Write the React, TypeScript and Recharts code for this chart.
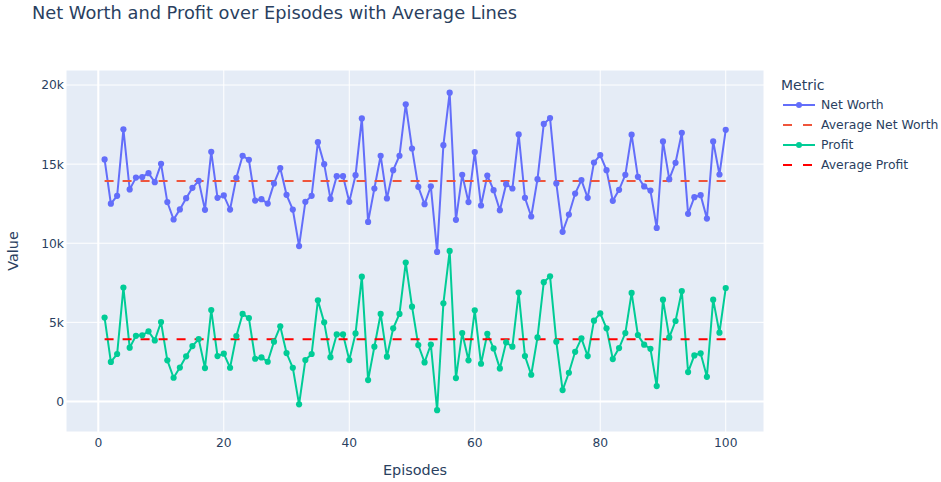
import React from 'react';
import { LineChart, Line, XAxis, YAxis, CartesianGrid, ReferenceLine } from 'recharts';

const episodes = [
  1, 2, 3, 4, 5, 6, 7, 8, 9, 10, 11, 12, 13, 14, 15, 16, 17, 18, 19, 20,
  21, 22, 23, 24, 25, 26, 27, 28, 29, 30, 31, 32, 33, 34, 35, 36, 37, 38, 39, 40,
  41, 42, 43, 44, 45, 46, 47, 48, 49, 50, 51, 52, 53, 54, 55, 56, 57, 58, 59, 60,
  61, 62, 63, 64, 65, 66, 67, 68, 69, 70, 71, 72, 73, 74, 75, 76, 77, 78, 79, 80,
  81, 82, 83, 84, 85, 86, 87, 88, 89, 90, 91, 92, 93, 94, 95, 96, 97, 98, 99, 100,
];

const netWorth = [
  15300, 12500, 13000, 17200, 13400, 14150, 14180, 14430, 13860, 15020,
  12600, 11500, 12140, 12850, 13500, 13945, 12110, 15780, 12870, 13020,
  12130, 14135, 15530, 15275, 12700, 12785, 12510, 13780, 14750, 13060,
  12130, 9820, 12616, 13000, 16390, 15000, 12800, 14240, 14240, 12616,
  14300, 17890, 11350, 13460, 15530, 12830, 14620, 15530, 18780, 15990,
  13565, 12470, 13600, 9450, 16200, 19515, 11480, 14325, 12600, 15760,
  12385, 14280, 13355, 12090, 13735, 13460, 16880, 12870, 11690, 14050,
  17540, 17910, 13780, 10720, 11815, 13140, 13990, 12870, 15105, 15570,
  14620, 12680, 13375, 14325, 16860, 14200, 13590, 13330, 10970, 16435,
  14050, 15085, 16980, 11860, 12910, 13040, 11560, 16435, 14345, 17170,
];

const profit = [
  5300, 2500, 3000, 7200, 3400, 4150, 4180, 4430, 3860, 5020,
  2600, 1500, 2140, 2850, 3500, 3945, 2110, 5780, 2870, 3020,
  2130, 4135, 5530, 5275, 2700, 2785, 2510, 3780, 4750, 3060,
  2130, -180, 2616, 3000, 6390, 5000, 2800, 4240, 4240, 2616,
  4300, 7890, 1350, 3460, 5530, 2830, 4620, 5530, 8780, 5990,
  3565, 2470, 3600, -550, 6200, 9515, 1480, 4325, 2600, 5760,
  2385, 4280, 3355, 2090, 3735, 3460, 6880, 2870, 1690, 4050,
  7540, 7910, 3780, 720, 1815, 3140, 3990, 2870, 5105, 5570,
  4620, 2680, 3375, 4325, 6860, 4200, 3590, 3330, 970, 6435,
  4050, 5085, 6980, 1860, 2910, 3040, 1560, 6435, 4345, 7170,
];

const avgNetWorth = 13940;
const avgProfit = 3940;

const xTicks = [0, 20, 40, 60, 80, 100];
const yTicks = [0, 5000, 10000, 15000, 20000];

const legendItems = [
  { name: 'Net Worth', color: '#636efa', dashed: false, dot: true },
  { name: 'Average Net Worth', color: '#EF553B', dashed: true, dot: false },
  { name: 'Profit', color: '#00cc96', dashed: false, dot: true },
  { name: 'Average Profit', color: '#ff0000', dashed: true, dot: false },
];

const data = episodes.map((e, i) => ({
  episode: e,
  netWorth: netWorth[i],
  avgNetWorth: avgNetWorth,
  profit: profit[i],
  avgProfit: avgProfit,
}));

const FONT = '"DejaVu Sans", Verdana, sans-serif';
const TXT = '#2a3f5f';

const fmtY = (v: number) => (v === 0 ? '0' : `${v / 1000}k`);

export default function App() {
  return (
    <div style={{ position: 'absolute', left: 0, top: 0, width: 941, height: 482, background: '#ffffff' }}>
      <LineChart
        width={941}
        height={482}
        data={data}
        margin={{ top: 70, right: 177, bottom: 0, left: 0 }}
      >
        <CartesianGrid fill="#E5ECF6" stroke="#ffffff" strokeWidth={1} />
        <XAxis
          dataKey="episode"
          type="number"
          domain={[-5.15, 106.1]}
          allowDataOverflow
          ticks={xTicks}
          interval={0}
          height={50}
          tickLine={false}
          axisLine={false}
          tickSize={0}
          tickMargin={6}
          tick={{ fill: TXT, fontSize: 12.3, fontFamily: FONT }}
        />
        <YAxis
          type="number"
          domain={[-1930, 20950]}
          allowDataOverflow
          ticks={yTicks}
          interval={0}
          width={66}
          tickLine={false}
          axisLine={false}
          tickSize={0}
          tickMargin={2}
          tickFormatter={fmtY}
          tick={{ fill: TXT, fontSize: 12.3, fontFamily: FONT }}
        />
        <ReferenceLine y={0} stroke="#ffffff" strokeWidth={2} />
        <ReferenceLine x={0} stroke="#ffffff" strokeWidth={2} />
        <Line
          dataKey="netWorth"
          name="Net Worth"
          stroke="#636efa"
          strokeWidth={2}
          dot={{ r: 3.1, fill: '#636efa', stroke: '#636efa', strokeWidth: 0 }}
          activeDot={false}
          isAnimationActive={false}
        />
        <Line
          dataKey="avgNetWorth"
          name="Average Net Worth"
          stroke="#EF553B"
          strokeWidth={2}
          strokeDasharray="9 9"
          dot={false}
          activeDot={false}
          isAnimationActive={false}
        />
        <Line
          dataKey="profit"
          name="Profit"
          stroke="#00cc96"
          strokeWidth={2}
          dot={{ r: 3.1, fill: '#00cc96', stroke: '#00cc96', strokeWidth: 0 }}
          activeDot={false}
          isAnimationActive={false}
        />
        <Line
          dataKey="avgProfit"
          name="Average Profit"
          stroke="#ff0000"
          strokeWidth={2}
          strokeDasharray="9 9"
          dot={false}
          activeDot={false}
          isAnimationActive={false}
        />
      </LineChart>
      <svg
        width={941}
        height={482}
        style={{ position: 'absolute', left: 0, top: 0, pointerEvents: 'none' }}
      >
        <text x={32} y={18.5} fontFamily={FONT} fontSize={17.8} fill={TXT}>
          Net Worth and Profit over Episodes with Average Lines
        </text>
        <text x={415} y={475} textAnchor="middle" fontFamily={FONT} fontSize={14.4} fill={TXT}>
          Episodes
        </text>
        <text
          x={18}
          y={251}
          textAnchor="middle"
          fontFamily={FONT}
          fontSize={14.4}
          fill={TXT}
          transform="rotate(-90 18 251)"
        >
          Value
        </text>
        <text x={781} y={90} fontFamily={FONT} fontSize={14} fill={TXT}>
          Metric
        </text>
        {legendItems.map((it, i) => {
          const cy = 105 + 20 * i;
          return (
            <g key={it.name}>
              <line
                x1={783}
                x2={815}
                y1={cy}
                y2={cy}
                stroke={it.color}
                strokeWidth={2}
                strokeDasharray={it.dashed ? '9 11' : undefined}
              />
              {it.dot && <circle cx={799} cy={cy} r={3} fill={it.color} />}
              <text x={821} y={cy + 4.3} fontFamily={FONT} fontSize={12.4} fill={TXT}>
                {it.name}
              </text>
            </g>
          );
        })}
      </svg>
    </div>
  );
}
